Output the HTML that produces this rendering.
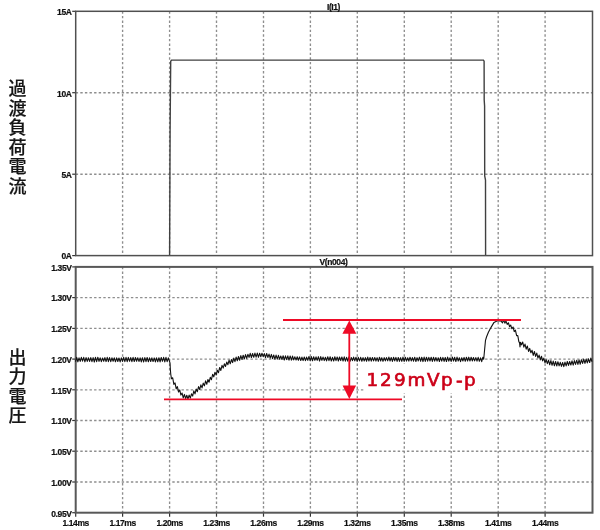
<!DOCTYPE html><html><head><meta charset="utf-8"><title>過渡負荷応答</title><style>
html,body{margin:0;padding:0;background:#fff;width:600px;height:530px;overflow:hidden}
svg{display:block}
.ax{font-family:"Liberation Sans",Arial,sans-serif;font-size:8.5px;font-weight:bold;fill:#111;stroke:#111;stroke-width:0.2px}
.jp{font-family:"Liberation Sans","Noto Sans CJK JP",sans-serif;font-size:18px;font-weight:500;fill:#151515;stroke:#151515;stroke-width:0.2px}
.red{font-family:"DejaVu Sans","Liberation Sans",sans-serif;font-size:18.4px;fill:#cc0018;stroke:#cc0018;stroke-width:0.65px}
</style></head><body>
<svg width="600" height="530" viewBox="0 0 600 530">
<rect width="600" height="530" fill="#fff"/>
<g stroke="#8e8e8e" stroke-width="1.35" stroke-dasharray="2.4 2.2"><line x1="122.6" y1="11.3" x2="122.6" y2="255.6"/><line x1="122.6" y1="266.9" x2="122.6" y2="512.7"/><line x1="169.6" y1="11.3" x2="169.6" y2="255.6"/><line x1="169.6" y1="266.9" x2="169.6" y2="512.7"/><line x1="216.5" y1="11.3" x2="216.5" y2="255.6"/><line x1="216.5" y1="266.9" x2="216.5" y2="512.7"/><line x1="263.5" y1="11.3" x2="263.5" y2="255.6"/><line x1="263.5" y1="266.9" x2="263.5" y2="512.7"/><line x1="310.4" y1="11.3" x2="310.4" y2="255.6"/><line x1="310.4" y1="266.9" x2="310.4" y2="512.7"/><line x1="357.3" y1="11.3" x2="357.3" y2="255.6"/><line x1="357.3" y1="266.9" x2="357.3" y2="512.7"/><line x1="404.3" y1="11.3" x2="404.3" y2="255.6"/><line x1="404.3" y1="266.9" x2="404.3" y2="512.7"/><line x1="451.2" y1="11.3" x2="451.2" y2="255.6"/><line x1="451.2" y1="266.9" x2="451.2" y2="512.7"/><line x1="498.2" y1="11.3" x2="498.2" y2="255.6"/><line x1="498.2" y1="266.9" x2="498.2" y2="512.7"/><line x1="545.1" y1="11.3" x2="545.1" y2="255.6"/><line x1="545.1" y1="266.9" x2="545.1" y2="512.7"/><line x1="75.7" y1="92.7" x2="592.5" y2="92.7"/><line x1="75.7" y1="174.2" x2="592.5" y2="174.2"/><line x1="75.7" y1="297.6" x2="592.5" y2="297.6"/><line x1="75.7" y1="328.4" x2="592.5" y2="328.4"/><line x1="75.7" y1="359.1" x2="592.5" y2="359.1"/><line x1="75.7" y1="389.8" x2="592.5" y2="389.8"/><line x1="75.7" y1="420.5" x2="592.5" y2="420.5"/><line x1="75.7" y1="451.2" x2="592.5" y2="451.2"/><line x1="75.7" y1="482.0" x2="592.5" y2="482.0"/></g>
<g stroke="#333" stroke-width="1.2"><line x1="75.7" y1="512.7" x2="75.7" y2="516.7"/><line x1="122.6" y1="512.7" x2="122.6" y2="516.7"/><line x1="169.6" y1="512.7" x2="169.6" y2="516.7"/><line x1="216.5" y1="512.7" x2="216.5" y2="516.7"/><line x1="263.5" y1="512.7" x2="263.5" y2="516.7"/><line x1="310.4" y1="512.7" x2="310.4" y2="516.7"/><line x1="357.3" y1="512.7" x2="357.3" y2="516.7"/><line x1="404.3" y1="512.7" x2="404.3" y2="516.7"/><line x1="451.2" y1="512.7" x2="451.2" y2="516.7"/><line x1="498.2" y1="512.7" x2="498.2" y2="516.7"/><line x1="545.1" y1="512.7" x2="545.1" y2="516.7"/><line x1="72.2" y1="11.3" x2="75.7" y2="11.3"/><line x1="72.2" y1="92.7" x2="75.7" y2="92.7"/><line x1="72.2" y1="174.2" x2="75.7" y2="174.2"/><line x1="72.2" y1="255.6" x2="75.7" y2="255.6"/><line x1="72.2" y1="266.9" x2="75.7" y2="266.9"/><line x1="72.2" y1="297.6" x2="75.7" y2="297.6"/><line x1="72.2" y1="328.4" x2="75.7" y2="328.4"/><line x1="72.2" y1="359.1" x2="75.7" y2="359.1"/><line x1="72.2" y1="389.8" x2="75.7" y2="389.8"/><line x1="72.2" y1="420.5" x2="75.7" y2="420.5"/><line x1="72.2" y1="451.2" x2="75.7" y2="451.2"/><line x1="72.2" y1="482.0" x2="75.7" y2="482.0"/><line x1="72.2" y1="512.7" x2="75.7" y2="512.7"/></g>
<g fill="none"><rect stroke="#505050" stroke-width="1.5" x="75.7" y="11.3" width="516.8" height="244.3"/><rect stroke="#585858" stroke-width="2" x="75.7" y="266.9" width="516.8" height="245.8"/></g>
<g class="ax" letter-spacing="-0.4"><text x="71.5" y="15.1" text-anchor="end">15A</text><text x="71.5" y="96.5" text-anchor="end">10A</text><text x="71.5" y="178.0" text-anchor="end">5A</text><text x="71.5" y="259.4" text-anchor="end">0A</text><text x="71.5" y="270.7" text-anchor="end">1.35V</text><text x="71.5" y="301.4" text-anchor="end">1.30V</text><text x="71.5" y="332.2" text-anchor="end">1.25V</text><text x="71.5" y="362.9" text-anchor="end">1.20V</text><text x="71.5" y="393.6" text-anchor="end">1.15V</text><text x="71.5" y="424.3" text-anchor="end">1.10V</text><text x="71.5" y="455.1" text-anchor="end">1.05V</text><text x="71.5" y="485.8" text-anchor="end">1.00V</text><text x="71.5" y="516.5" text-anchor="end">0.95V</text><text x="75.7" y="525.5" text-anchor="middle">1.14ms</text><text x="122.6" y="525.5" text-anchor="middle">1.17ms</text><text x="169.6" y="525.5" text-anchor="middle">1.20ms</text><text x="216.5" y="525.5" text-anchor="middle">1.23ms</text><text x="263.5" y="525.5" text-anchor="middle">1.26ms</text><text x="310.4" y="525.5" text-anchor="middle">1.29ms</text><text x="357.3" y="525.5" text-anchor="middle">1.32ms</text><text x="404.3" y="525.5" text-anchor="middle">1.35ms</text><text x="451.2" y="525.5" text-anchor="middle">1.38ms</text><text x="498.2" y="525.5" text-anchor="middle">1.41ms</text><text x="545.1" y="525.5" text-anchor="middle">1.44ms</text><text x="333.5" y="9.5" text-anchor="middle">I(I1)</text><text x="333.5" y="265" text-anchor="middle">V(n004)</text></g>
<polyline fill="none" stroke="#404040" stroke-width="1.4" points="169.6,255.1 170.1,130 170.7,61.2 171.6,60.1 483.4,60.1 484.1,61.2 484.2,100 484.6,106 484.7,176 485.5,180 485.6,255.1"/>
<polyline fill="none" stroke="#111" stroke-width="1.1" stroke-linejoin="round" points="75.50,361.70 76.67,357.28 77.85,361.82 79.02,357.82 80.20,361.44 81.37,357.30 82.55,361.20 83.72,357.34 84.90,361.84 86.07,357.63 87.25,361.44 88.42,357.78 89.60,361.40 90.77,357.64 91.95,361.60 93.12,357.56 94.30,362.00 95.47,357.37 96.65,361.70 97.82,357.21 99.00,361.37 100.17,357.87 101.35,361.69 102.52,357.96 103.70,361.23 104.87,357.59 106.05,361.57 107.22,357.27 108.40,361.70 109.57,357.59 110.75,361.60 111.92,357.80 113.10,361.21 114.27,357.85 115.45,361.75 116.62,357.84 117.80,361.50 118.97,358.00 120.15,361.86 121.32,357.88 122.50,361.41 123.67,357.30 124.85,361.61 126.02,357.32 127.20,361.71 128.37,357.41 129.55,361.27 130.72,357.57 131.90,361.61 133.07,357.30 134.25,361.49 135.42,357.52 136.60,361.25 137.77,357.69 138.95,361.46 140.12,357.88 141.30,361.85 142.47,357.70 143.65,361.98 144.82,357.53 146.00,361.68 147.17,357.49 148.35,361.74 149.52,357.88 150.70,361.55 151.87,357.81 153.05,361.52 154.22,357.92 155.40,361.97 156.57,357.83 157.75,361.74 158.92,357.76 160.10,361.90 161.27,357.47 162.45,361.31 163.62,357.32 164.80,361.96 165.97,357.28 167.15,361.66 168.32,357.88 169.50,361.35 170.00,363.00 170.40,370.00 170.80,374.50 171.50,378.80 172.68,377.76 173.85,384.32 175.03,382.89 176.20,388.83 177.38,386.62 178.55,392.04 179.73,389.97 180.90,395.07 182.08,393.03 183.25,397.94 184.43,394.42 185.60,398.60 186.78,395.26 187.95,399.00 189.13,395.14 190.30,398.07 191.48,393.84 192.65,396.05 193.83,390.91 195.00,393.92 196.18,389.02 197.35,391.75 198.53,386.61 199.70,389.55 200.88,384.83 202.05,387.88 203.23,383.11 204.40,385.86 205.58,380.90 206.75,384.26 207.93,379.47 209.10,382.22 210.28,377.28 211.45,379.70 212.63,374.29 213.80,376.86 214.98,372.21 216.15,375.00 217.33,370.20 218.50,372.66 219.68,367.47 220.85,370.44 222.03,365.39 223.20,368.08 224.38,363.83 225.55,366.42 226.73,362.09 227.90,364.66 229.08,360.10 230.25,363.79 231.43,359.56 232.60,362.56 233.78,358.09 234.95,361.69 236.13,357.06 237.30,360.74 238.48,356.44 239.65,360.24 240.83,355.65 242.00,359.38 243.18,355.26 244.35,358.98 245.53,354.65 246.70,358.40 247.88,354.29 249.05,357.40 250.23,353.38 251.40,357.49 252.58,353.50 253.75,357.30 254.93,353.10 256.10,357.16 257.28,353.05 258.45,357.27 259.63,353.20 260.80,356.75 261.98,353.27 263.15,356.68 264.33,353.63 265.50,357.71 266.68,353.51 267.85,357.46 269.03,354.06 270.20,358.10 271.38,354.43 272.55,358.60 273.73,355.00 274.90,359.14 276.08,355.15 277.25,359.16 278.43,355.30 279.60,359.10 280.78,356.01 281.95,359.54 283.13,355.72 284.30,360.01 285.48,355.85 286.65,359.59 287.83,355.82 289.00,360.22 290.18,355.96 291.35,360.12 292.53,356.04 293.70,359.86 294.88,356.82 296.05,359.95 297.23,356.76 298.40,360.23 299.58,356.92 300.75,360.56 301.93,357.07 303.10,360.60 304.28,357.00 305.45,360.69 306.63,357.13 307.80,360.43 308.98,356.46 310.15,360.63 311.33,356.58 312.50,360.75 313.68,356.75 314.85,360.41 316.03,356.80 317.20,360.32 318.38,356.65 319.55,361.05 320.73,356.64 321.90,360.38 323.08,357.05 324.25,360.60 325.43,357.25 326.60,360.86 327.78,356.75 328.95,360.65 330.13,356.73 331.30,361.04 332.48,357.31 333.65,361.04 334.83,356.76 336.00,360.63 337.18,357.02 338.35,360.99 339.53,357.01 340.70,360.60 341.88,357.00 343.05,361.03 344.23,356.90 345.40,361.18 346.58,357.30 347.75,361.15 348.93,356.91 350.10,361.30 351.28,357.47 352.45,360.66 353.63,357.12 354.80,360.83 355.98,357.21 357.15,361.41 358.33,357.37 359.50,360.91 360.68,357.33 361.85,361.22 363.03,357.61 364.20,361.02 365.38,357.59 366.55,361.23 367.73,357.06 368.90,361.02 370.08,357.41 371.25,361.15 372.43,357.54 373.60,360.93 374.78,357.45 375.95,361.09 377.13,357.65 378.30,361.32 379.48,357.27 380.65,360.98 381.83,357.66 383.00,361.34 384.18,357.62 385.35,360.86 386.53,357.62 387.70,360.83 388.88,357.04 390.05,360.97 391.23,357.50 392.40,361.41 393.58,357.26 394.75,360.92 395.93,357.41 397.10,361.45 398.28,357.46 399.45,361.32 400.63,357.67 401.80,361.34 402.98,357.16 404.15,361.42 405.33,357.24 406.50,361.08 407.68,357.71 408.85,361.19 410.03,357.19 411.20,360.95 412.38,357.56 413.55,361.21 414.73,357.20 415.90,361.49 417.08,357.68 418.25,360.95 419.43,357.17 420.60,361.31 421.78,357.23 422.95,361.58 424.13,357.07 425.30,361.47 426.48,357.20 427.65,361.13 428.83,357.30 430.00,360.97 431.18,357.22 432.35,361.41 433.53,357.25 434.70,361.18 435.88,357.52 437.05,361.16 438.23,357.78 439.40,361.49 440.58,357.40 441.75,361.15 442.93,357.40 444.10,361.40 445.28,357.53 446.45,361.49 447.63,357.12 448.80,361.16 449.98,357.72 451.15,361.45 452.33,357.07 453.50,360.98 454.68,357.29 455.85,361.50 457.03,357.14 458.20,360.97 459.38,357.77 460.55,361.63 461.73,357.76 462.90,361.02 464.08,357.41 465.25,361.23 466.43,357.28 467.60,361.04 468.78,357.16 469.95,361.06 471.13,357.28 472.30,360.95 473.48,357.50 474.65,360.93 475.83,357.63 477.00,361.15 478.18,357.32 479.35,361.26 480.53,357.83 481.70,361.67 482.88,357.20 483.70,359.20 484.60,349.70 485.50,340.30 486.50,337.00 488.40,332.30 491.20,327.10 494.00,322.40 496.90,321.00 500.60,320.70 502.50,322.80 503.68,319.92 504.85,323.12 506.03,321.09 507.20,324.44 508.38,322.76 509.55,326.65 510.73,325.05 511.90,328.81 513.08,326.99 514.25,331.58 515.43,330.17 516.60,335.63 517.78,335.67 518.95,342.07 519.50,342.20 520.00,346.90 520.50,342.20 521.50,344.85 522.67,341.97 523.85,347.12 525.02,344.09 526.20,349.15 527.37,346.01 528.55,351.48 529.72,348.39 530.90,352.78 532.07,350.33 533.25,355.34 534.42,351.44 535.60,356.40 536.77,353.06 537.95,358.03 539.12,355.08 540.30,359.88 541.47,356.25 542.65,360.91 543.82,358.13 545.00,362.77 546.17,359.73 547.35,363.65 548.52,360.18 549.70,364.75 550.87,360.53 552.05,365.30 553.22,361.12 554.40,365.79 555.57,361.48 556.75,365.98 557.92,361.72 559.10,365.83 560.27,362.33 561.45,366.34 562.62,362.48 563.80,366.62 564.97,362.09 566.15,365.86 567.32,361.49 568.50,365.40 569.67,361.50 570.85,365.02 572.02,360.81 573.20,365.07 574.37,360.58 575.55,364.46 576.72,360.20 577.90,364.41 579.07,359.95 580.25,364.23 581.42,359.73 582.60,363.44 583.77,359.18 584.95,363.42 586.12,359.11 587.30,362.94 588.47,358.86 589.65,362.50 590.82,358.07 592.00,361.79"/>
<rect x="364" y="364" width="114" height="29" fill="#fff"/>
<g stroke="#ee0a26" stroke-width="1.8"><line x1="283" y1="320" x2="521" y2="320"/><line x1="164" y1="399.4" x2="402" y2="399.4"/><line x1="349.3" y1="330" x2="349.3" y2="389"/></g>
<g fill="#ee0a26"><polygon points="349.3,320.5 342.4,333.7 356.3,333.7"/><polygon points="349.3,399 342.6,385.6 356.1,385.6"/></g>
<text class="red" x="366.4 379.9 394.1 407.6 427.1 441.1 455.9 464.1" y="386.2">129mVp-p</text>
<text class="jp" x="8.5" y="95.0">過</text><text class="jp" x="8.5" y="114.5">渡</text><text class="jp" x="8.5" y="134.0">負</text><text class="jp" x="8.5" y="153.5">荷</text><text class="jp" x="8.5" y="173.0">電</text><text class="jp" x="8.5" y="192.5">流</text>
<text class="jp" x="8.5" y="363.5">出</text><text class="jp" x="8.5" y="383.0">力</text><text class="jp" x="8.5" y="402.5">電</text><text class="jp" x="8.5" y="422.0">圧</text>
</svg></body></html>
